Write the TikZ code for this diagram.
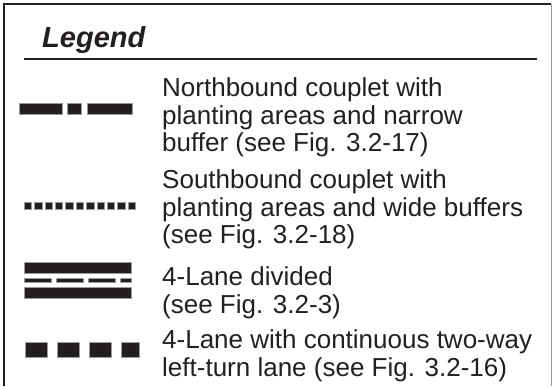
\documentclass[tikz,border=0pt]{standalone}
\usepackage{fontspec}
\setmainfont{Liberation Sans}
\usetikzlibrary{positioning}
\definecolor{lgink}{HTML}{231F20}
\definecolor{lgedge}{HTML}{9A9A9A}
\tikzset{
  every picture/.style={x=1pt, y=-1pt},
  hd/.style={anchor=base west, inner sep=0pt, text=lgink, font=\fontsize{29}{30}\selectfont\bfseries\itshape},
  entry/.style={anchor=north west, align=left, inner sep=0pt, text=lgink, font=\fontsize{26}{27.5}\selectfont},
  bar/.style={fill=lgink, draw=lgedge, line width=0.5pt},
  rule/.style={draw=lgink, line width=2.2pt},
}

\begin{document}
\begin{tikzpicture}
  \useasboundingbox (0,0) rectangle (553,386);
  % frame
  \draw[rule] (4,386) -- (4,4) -- (551,4);
  \draw[draw=lgedge, line width=1pt] (551.5,4) -- (551.5,386);
  % heading
  \node[hd] (title) at (42,47) {Legend};
  \draw[rule, line width=2pt] (24,59) -- (537,59);
  % northbound couplet
  \node[entry] (north) at (162,77.5) {Northbound couplet with\\planting areas and narrow\\buffer (see Fig. 3.2-17)};
  \fill[bar] (19,103) rectangle (62,114);
  \fill[bar] (67,103) rectangle (81,114);
  \fill[bar] (87,103) rectangle (132,114);
  % southbound couplet
  \node[entry] (south) at (162,169.5) {Southbound couplet with\\planting areas and wide buffers\\(see Fig. 3.2-18)};
  \foreach \i in {0,...,10}
    \fill[bar] ({24+10.4*\i},202) rectangle ({31.5+10.4*\i},209.5);
  % 4-lane divided
  \node[entry] (divided) at (162,266.5) {4-Lane divided\\(see Fig. 3.2-3)};
  \fill[bar] (24,262) rectangle (131,273);
  \foreach \a/\b in {24/51, 56/83, 88/115, 120/131}
    \fill[bar] (\a,278) rectangle (\b,282);
  \fill[bar] (24,287) rectangle (131,298);
  % 4-lane with turn lane
  \node[entry] (twoway) at (162,329.5) {4-Lane with continuous two-way\\left-turn lane (see Fig. 3.2-16)};
  \foreach \a/\b in {25/47, 57/79, 89/111, 121/139}
    \fill[bar] (\a,342) rectangle (\b,357);
\end{tikzpicture}
\end{document}
